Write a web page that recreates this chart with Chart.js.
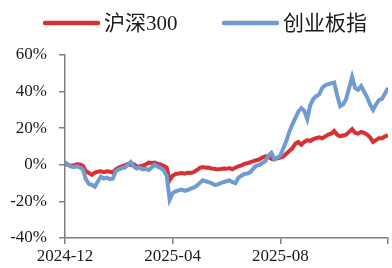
<!DOCTYPE html>
<html>
<head>
<meta charset="utf-8">
<script src="https://cdn.jsdelivr.net/npm/chart.js@4.4.1/dist/chart.umd.min.js"></script>
<style>
html,body{margin:0;padding:0;background:#fff;}
#wrap{width:392px;height:268px;position:relative;}
</style>
</head>
<body>
<div id="wrap"><canvas id="c" width="392" height="268"></canvas></div>
<script>
// Series labels
const seriesNames = ["沪深300", "创业板指"];
// X tick labels (every 4 months across the period)
const monthLabels = ["2024-12", "2025-04", "2025-08", ""];
// Cumulative return (%) — 沪深300, roughly every ~3 trading days from 2024-12 to 2025-12
const hs300 = [
  0.5, 0, -0.5, -0.3, 0.3, 0.2, -0.5, -3.5, -4.5, -5.5,
  -4.2, -3.8, -3.5, -4, -3.6, -3.8, -4.2, -2.5, -1.5, -0.8,
  -0.3, 0.5, -0.2, 0.3, -1, -0.8, -0.5, 0.2, 1.2, 1.0,
  1.2, 0.5, 0.2, -0.5, -1.5, -8.5, -6, -5, -4.8, -4.5,
  -4.8, -4.3, -4.5, -4, -3, -1.8, -1.2, -1.6, -1.5, -2,
  -2.2, -2.5, -2.3, -2, -2.2, -1.8, -2.5, -1.5, -0.8, -0.3,
  0.5, 0.8, 1.5, 2, 2.5, 3, 4, 4.6, 4.5, 3.2,
  3, 3.5, 4, 4.5, 6, 7.5, 9, 11.5, 12.5, 11,
  12.5, 13.5, 13, 14, 14.5, 15, 14.5, 15.5, 16.5, 17,
  18.5, 16.5, 15.5, 16, 16.5, 18, 19.5, 17.5, 17, 18,
  17.5, 16.5, 15, 12.5, 13.5, 14.5, 14.5, 15.5, 16
];
// Cumulative return (%) — 创业板指
const chinext = [
  1.5, 0, -1, -1.2, -0.8, -1.5, -2.5, -8, -10.5, -11,
  -12, -9, -6.5, -7.5, -7, -7.8, -7.5, -3.5, -2.5, -1.8,
  -1.5, 0, 1.5, -1, -2, -1.5, -2.5, -2.2, -2.8, -1.5,
  0, -1, -1.8, -3, -6, -19, -15.5, -14.5, -14, -13.5,
  -14.2, -13.8, -13, -12.5, -11.5, -10, -8.5, -9, -9.5, -10,
  -11, -10.8, -10, -9.5, -9, -8.5, -9.5, -10, -7, -6,
  -5, -4.8, -4, -2, -0.5, 0, 1, 2, 5, 6.5,
  3, 4, 5, 9, 13, 18, 22, 25.5, 29, 31,
  29.5, 25, 32.5, 36, 37.5, 38.5, 42, 43.5, 44, 44.5,
  45, 38, 32, 33, 36, 42, 48, 42, 41, 43,
  40, 37, 33, 30, 33, 35.5, 36, 39, 42
];
const colors = ["#d63134", "#6f9bd1"];

const toXY = arr => arr.map((v, i) => ({x: i, y: v}));
const lastIdx = hs300.length - 1;
const tickStep = lastIdx / (monthLabels.length - 1);

const axisColor = "#7f7f7f";
const tickFont = {family: "'Liberation Serif', 'Times New Roman', serif", size: 17};

const legendPlugin = {
  id: 'customLegend',
  afterDraw(chart) {
    const ctx = chart.ctx;
    const starts = [45, 224];
    const y = 23;
    ctx.save();
    ctx.font = "21px 'Liberation Serif', 'Noto Sans CJK SC', serif";
    ctx.textBaseline = 'middle';
    ctx.textAlign = 'left';
    chart.data.datasets.forEach((ds, i) => {
      const x0 = starts[i];
      ctx.strokeStyle = ds.borderColor;
      ctx.lineWidth = 4.5;
      ctx.lineCap = 'round';
      ctx.beginPath();
      ctx.moveTo(x0, y);
      ctx.lineTo(x0 + 53, y);
      ctx.stroke();
      ctx.fillStyle = '#1a1a1a';
      ctx.fillText(ds.label, x0 + 59, y + 1);
    });
    ctx.restore();
  }
};

new Chart(document.getElementById('c'), {
  type: 'line',
  data: {
    datasets: [
      {label: seriesNames[0], data: toXY(hs300), borderColor: colors[0], backgroundColor: colors[0], borderWidth: 4, pointRadius: 0, tension: 0, order: 2},
      {label: seriesNames[1], data: toXY(chinext), borderColor: colors[1], backgroundColor: colors[1], borderWidth: 4, pointRadius: 0, tension: 0, order: 1}
    ]
  },
  options: {
    responsive: false,
    animation: false,
    events: [],
    layout: {padding: {top: 55, left: 10, right: 4, bottom: 0}},
    plugins: {legend: {display: false}, tooltip: {enabled: false}},
    scales: {
      x: {
        type: 'linear',
        min: 0,
        max: lastIdx,
        afterBuildTicks: s => { s.ticks = monthLabels.map((_, k) => ({value: k * tickStep})); },
        afterFit: s => { s.height = 30; },
        ticks: {
          autoSkip: false,
          maxRotation: 0,
          color: '#1a1a1a',
          font: tickFont,
          padding: 2,
          callback: (v) => monthLabels[Math.round(v / tickStep)]
        },
        grid: {drawOnChartArea: false, drawTicks: true, tickLength: 6, color: axisColor, lineWidth: 1.5},
        border: {color: axisColor, width: 1.5}
      },
      y: {
        min: -40,
        max: 60,
        afterFit: s => { s.width = 55; },
        ticks: {
          stepSize: 20,
          color: '#1a1a1a',
          font: tickFont,
          padding: 12,
          callback: v => v + '%'
        },
        grid: {drawOnChartArea: false, drawTicks: true, tickLength: 6, color: axisColor, lineWidth: 1.5},
        border: {color: axisColor, width: 1.5}
      }
    }
  },
  plugins: [legendPlugin]
});
</script>
</body>
</html>
